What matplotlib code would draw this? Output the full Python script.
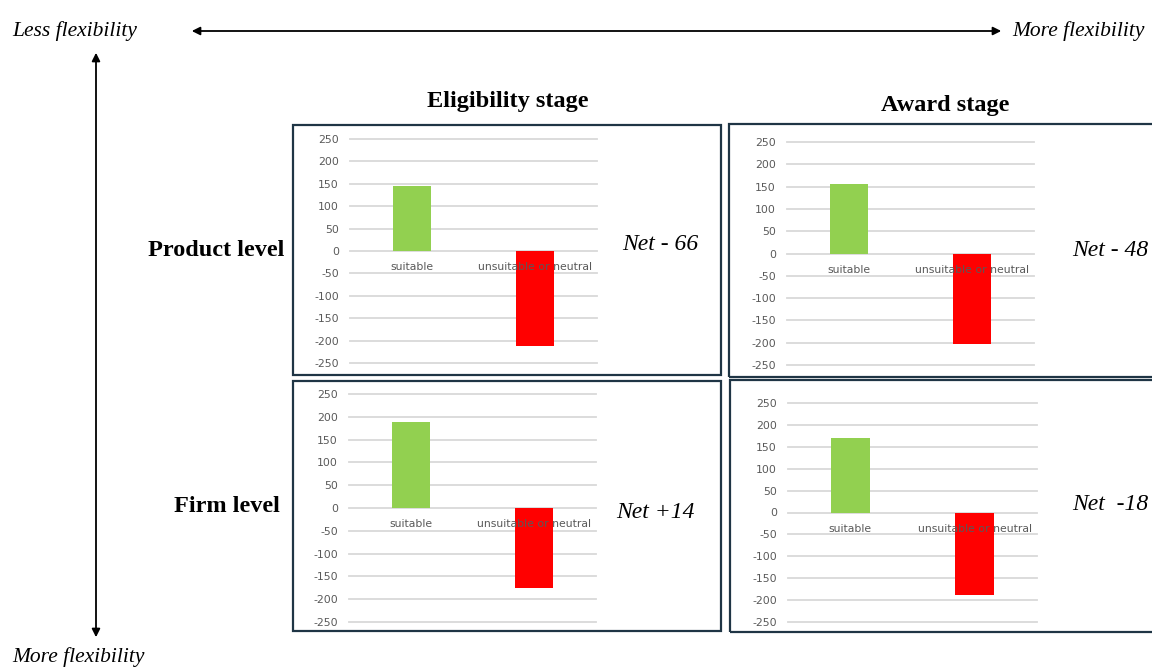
import matplotlib.pyplot as plt
from matplotlib.patches import Rectangle, FancyArrowPatch

# counts per panel: rows = level, columns = stage
stages = ['Eligibility stage', 'Award stage']
levels = ['Product level', 'Firm level']
categories = ['suitable', 'unsuitable or neutral']
suitable = [[146, 155], [189, 170]]
unsuitable = [[-212, -203], [-175, -188]]
net_labels = [['Net - 66', 'Net - 48'], ['Net +14', 'Net  -18']]
yticks = [250, 200, 150, 100, 50, 0, -50, -100, -150, -200, -250]

W, H = 1152, 668
fig = plt.figure(figsize=(W / 100, H / 100), dpi=100)

SERIF = 'Liberation Serif'
GREEN = '#92D050'
RED = '#FF0000'
FRAME = '#1F3545'


def fx(x):
    return x / W


def fy(y):
    return 1 - y / H


# frames around each chart (pixel corners)
boxes = [[(293, 125, 721, 375), (729, 124, 1162, 377)],
         [(293, 381, 721, 631), (730, 380, 1162, 632)]]
# plot areas: x left, y of +250, x right, y of -250
plots = [[(350, 139, 597, 363), (787, 142, 1034, 365)],
         [(349, 394, 596, 622), (788, 403, 1037, 622)]]
net_pos = [[(660, 244), (1110, 250)], [(655, 513), (1110, 505)]]

for r in range(2):
    for c in range(2):
        x0, y0, x1, y1 = boxes[r][c]
        fig.add_artist(Rectangle((fx(x0), fy(y1)), (x1 - x0) / W, (y1 - y0) / H,
                                 transform=fig.transFigure, fill=False,
                                 edgecolor=FRAME, linewidth=1.6, clip_on=False))

        px0, py0, px1, py1 = plots[r][c]
        ax = fig.add_axes([fx(px0), fy(py1), (px1 - px0) / W, (py1 - py0) / H])
        ax.set_facecolor('none')
        ax.bar([0, 1], [suitable[r][c], unsuitable[r][c]], width=0.31,
               color=[GREEN, RED], zorder=2)
        ax.set_xlim(-0.5, 1.5)
        ax.set_ylim(-250, 250)
        ax.set_yticks(yticks)
        ax.set_yticklabels([str(t) for t in yticks])
        ax.set_xticks([])
        ax.tick_params(axis='y', length=0, pad=8, labelsize=7.8, labelcolor='#595959')
        ax.yaxis.grid(True, color='#D9D9D9', linewidth=1.3, zorder=0)
        for gl in ax.get_ygridlines():
            gl.set_clip_on(False)
        for s in ax.spines.values():
            s.set_visible(False)
        for i, cat in enumerate(categories):
            ax.annotate(cat, (i, 0), xytext=(0, -8), textcoords='offset points',
                        ha='center', va='top', fontsize=7.8, color='#595959', zorder=3)

        nx, ny = net_pos[r][c]
        fig.text(fx(nx), fy(ny), net_labels[r][c], ha='center', va='center',
                 fontsize=17, style='italic', family=SERIF)

# column and row headings
fig.text(fx(508), fy(101), stages[0], ha='center', va='center',
         fontsize=17.5, weight='bold', family=SERIF)
fig.text(fx(945), fy(105), stages[1], ha='center', va='center',
         fontsize=17.5, weight='bold', family=SERIF)
fig.text(fx(284), fy(250), levels[0], ha='right', va='center',
         fontsize=17.5, weight='bold', family=SERIF)
fig.text(fx(280), fy(506), levels[1], ha='right', va='center',
         fontsize=17.5, weight='bold', family=SERIF)

# flexibility arrows
fig.add_artist(FancyArrowPatch((fx(189), fy(31)), (fx(1004), fy(31)),
                               transform=fig.transFigure, arrowstyle='<|-|>',
                               mutation_scale=12, color='black', linewidth=1.3))
fig.add_artist(FancyArrowPatch((fx(96), fy(50)), (fx(96), fy(640)),
                               transform=fig.transFigure, arrowstyle='<|-|>',
                               mutation_scale=12, color='black', linewidth=1.3))
fig.text(fx(12), fy(31), 'Less flexibility', ha='left', va='center',
         fontsize=15.5, style='italic', family=SERIF)
fig.text(fx(1145), fy(31), 'More flexibility', ha='right', va='center',
         fontsize=15.5, style='italic', family=SERIF)
fig.text(fx(12), fy(657), 'More flexibility', ha='left', va='center',
         fontsize=15.5, style='italic', family=SERIF)

fig.savefig('out.png', dpi=100)
